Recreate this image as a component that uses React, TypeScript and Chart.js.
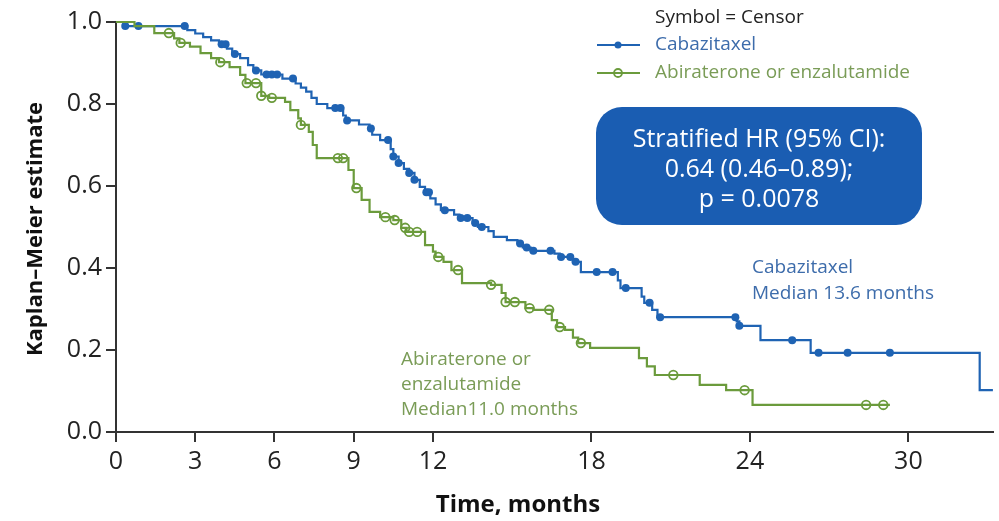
import React, { useEffect, useRef } from "react";
import { Chart, registerables } from "chart.js";

Chart.register(...registerables);

// ---------- DATA ----------
const xTickValues = [0, 3, 6, 9, 12, 18, 24, 30];
const yTickValues = [0, 0.2, 0.4, 0.6, 0.8, 1.0];

// Cabazitaxel KM step points (time in months, survival after the step)
const cabaTimes = [
  0, 0.3, 2.7, 3.0, 3.3, 3.6, 3.9, 4.2, 4.4, 4.7, 5.0, 5.2, 5.5, 6.3, 6.8, 7.0, 7.2, 7.4, 7.6, 8.0,
  8.6, 8.7, 9.2, 9.6, 9.7, 10.0, 10.4, 10.5, 10.7, 10.9, 11.1, 11.3, 11.5, 11.7, 11.9, 12.1, 12.3,
  12.8, 13.0, 13.5, 13.7, 14.1, 14.3, 14.8, 15.2, 15.4, 15.7, 16.6, 16.8, 17.3, 17.6, 19.0, 19.1,
  19.9, 20.0, 20.3, 20.5, 23.5, 23.6, 24.4, 26.3, 32.7, 33.2,
];
const cabaSurv = [
  1.0, 0.99, 0.98, 0.972, 0.963, 0.955, 0.946, 0.935, 0.922, 0.912, 0.895, 0.882, 0.872, 0.862, 0.85,
  0.84, 0.83, 0.815, 0.8, 0.79, 0.772, 0.76, 0.75, 0.74, 0.725, 0.712, 0.69, 0.672, 0.656, 0.642,
  0.632, 0.615, 0.598, 0.585, 0.57, 0.555, 0.541, 0.53, 0.522, 0.51, 0.5, 0.49, 0.476, 0.468, 0.46,
  0.45, 0.442, 0.435, 0.427, 0.415, 0.39, 0.37, 0.351, 0.33, 0.315, 0.298, 0.28, 0.27, 0.259, 0.224,
  0.193, 0.102, 0.102,
];
const cabaCensorTimes = [
  0.35, 0.85, 2.6, 4.0, 4.15, 4.5, 5.3, 5.7, 5.9, 6.1, 6.7, 8.3, 8.5, 8.75, 9.65, 10.3, 10.5, 10.7,
  11.1, 11.3, 11.75, 11.85, 12.45, 13.05, 13.3, 13.6, 13.85, 15.3, 15.55, 15.8, 16.45, 16.85, 17.2,
  17.4, 18.2, 18.8, 19.3, 20.2, 20.6, 23.45, 23.6, 25.6, 26.6, 27.7, 29.3,
];

// Abiraterone or enzalutamide KM step points
const abiTimes = [
  0, 0.7, 1.45, 2.2, 2.4, 2.8, 3.2, 3.6, 3.9, 4.3, 4.7, 4.9, 5.5, 5.8, 6.4, 6.6, 6.9, 7.0, 7.3, 7.45,
  7.6, 8.8, 9.0, 9.3, 9.6, 10.0, 10.5, 10.8, 11.0, 11.7, 12.0, 12.1, 12.4, 12.7, 13.1, 14.2, 14.6,
  14.75, 15.5, 15.8, 16.5, 16.7, 17.0, 17.3, 17.5, 17.95, 19.8, 20.1, 20.4, 22.1, 23.1, 24.1, 29.3,
];
const abiSurv = [
  1.0, 0.99, 0.973, 0.96, 0.949, 0.94, 0.924, 0.912, 0.902, 0.89, 0.871, 0.851, 0.82, 0.815, 0.805,
  0.785, 0.765, 0.749, 0.732, 0.7, 0.668, 0.639, 0.595, 0.566, 0.537, 0.524, 0.517, 0.498, 0.488,
  0.456, 0.44, 0.427, 0.415, 0.395, 0.363, 0.359, 0.339, 0.317, 0.302, 0.298, 0.273, 0.256, 0.249,
  0.23, 0.217, 0.205, 0.18, 0.16, 0.139, 0.115, 0.102, 0.066, 0.066,
];
const abiCensorTimes = [
  2.0, 2.45, 3.95, 4.95, 5.3, 5.5, 5.9, 7.0, 8.4, 8.6, 9.1, 10.2, 10.55, 10.95, 11.1, 11.4, 12.2,
  12.95, 14.2, 14.75, 15.1, 15.66, 16.4, 16.8, 17.6, 21.1, 23.8, 28.4, 29.05,
];

const seriesNames = ["Cabazitaxel", "Abiraterone or enzalutamide"];

// ---------- STYLE ----------
const BLUE = "#1f63b3";
const GREEN = "#6b9b3c";
const BOX = "#1a5db2";
const BLUE_TEXT = "#3d6cab";
const GREEN_TEXT = "#7a9c57";
const FONT = "'Open Sans', 'Noto Sans', sans-serif";

function stepAt(times: number[], surv: number[], t: number) {
  let v = surv[0];
  for (let i = 0; i < times.length; i++) {
    if (times[i] <= t) v = surv[i];
  }
  return v;
}

const toPts = (times: number[], surv: number[]) => times.map((t, i) => ({ x: t, y: surv[i] }));
const censorPts = (ct: number[], times: number[], surv: number[]) =>
  ct.map((t) => ({ x: t, y: stepAt(times, surv, t) }));

const overlayPlugin = {
  id: "overlay",
  afterDraw(chart: any) {
    const ctx = chart.ctx as CanvasRenderingContext2D;
    ctx.save();
    // axis titles
    ctx.fillStyle = "#111";
    ctx.textAlign = "center";
    ctx.textBaseline = "middle";
    ctx.font = `bold 24px ${FONT}`;
    ctx.fillText("Time, months", 518, 505);
    ctx.save();
    ctx.translate(36, 229);
    ctx.rotate(-Math.PI / 2);
    ctx.font = `bold 22px ${FONT}`;
    ctx.fillText("Kaplan\u2013Meier estimate", 0, 0);
    ctx.restore();

    // legend
    ctx.textAlign = "left";
    ctx.font = `19px ${FONT}`;
    ctx.fillStyle = "#222";
    ctx.fillText("Symbol = Censor", 655, 18);
    ctx.fillStyle = BLUE_TEXT;
    ctx.fillText(seriesNames[0], 655, 45);
    ctx.fillStyle = GREEN_TEXT;
    ctx.fillText(seriesNames[1], 655, 73);
    ctx.lineWidth = 2;
    ctx.strokeStyle = BLUE;
    ctx.beginPath();
    ctx.moveTo(597, 45);
    ctx.lineTo(640, 45);
    ctx.stroke();
    ctx.fillStyle = BLUE;
    ctx.beginPath();
    ctx.arc(618, 45, 3.5, 0, Math.PI * 2);
    ctx.fill();
    ctx.strokeStyle = GREEN;
    ctx.beginPath();
    ctx.moveTo(597, 73);
    ctx.lineTo(640, 73);
    ctx.stroke();
    ctx.lineWidth = 1.8;
    ctx.beginPath();
    ctx.arc(618, 73, 4, 0, Math.PI * 2);
    ctx.stroke();

    // HR box
    ctx.fillStyle = BOX;
    ctx.beginPath();
    (ctx as any).roundRect(596, 107, 326, 118, 26);
    ctx.fill();
    ctx.fillStyle = "#ffffff";
    ctx.textAlign = "center";
    ctx.font = `25px ${FONT}`;
    ctx.fillText("Stratified HR (95% CI):", 759, 140);
    ctx.fillText("0.64 (0.46\u20130.89);", 759, 170);
    ctx.fillText("p = 0.0078", 759, 200);

    // annotations
    ctx.textAlign = "left";
    ctx.font = `19px ${FONT}`;
    ctx.fillStyle = BLUE_TEXT;
    ctx.fillText("Cabazitaxel", 752, 268);
    ctx.fillText("Median 13.6 months", 752, 294);
    ctx.fillStyle = GREEN_TEXT;
    ctx.fillText("Abiraterone or", 401, 360);
    ctx.fillText("enzalutamide", 401, 385);
    ctx.fillText("Median11.0 months", 401, 410);
    ctx.restore();
  },
};

export default function App() {
  const ref = useRef<HTMLCanvasElement | null>(null);

  useEffect(() => {
    document.body.style.margin = "0";
    if (!ref.current) return;
    const tickFont = { family: FONT, size: 25 };
    const chart = new Chart(ref.current, {
      type: "line",
      data: {
        datasets: [
          {
            label: seriesNames[1],
            data: toPts(abiTimes, abiSurv),
            borderColor: GREEN,
            borderWidth: 2.2,
            pointRadius: 0,
            stepped: true,
            clip: false,
          } as any,
          {
            label: seriesNames[0],
            data: toPts(cabaTimes, cabaSurv),
            borderColor: BLUE,
            borderWidth: 2.2,
            pointRadius: 0,
            stepped: true,
            clip: false,
          } as any,
          {
            type: "scatter",
            label: seriesNames[1] + " censor",
            data: censorPts(abiCensorTimes, abiTimes, abiSurv),
            borderColor: GREEN,
            backgroundColor: "rgba(255,255,255,0)",
            borderWidth: 1.8,
            pointRadius: 4.3,
            showLine: false,
            clip: false,
          } as any,
          {
            type: "scatter",
            label: seriesNames[0] + " censor",
            data: censorPts(cabaCensorTimes, cabaTimes, cabaSurv),
            borderColor: BLUE,
            backgroundColor: BLUE,
            borderWidth: 0,
            pointRadius: 4,
            showLine: false,
            clip: false,
          } as any,
        ],
      },
      options: {
        animation: false,
        responsive: true,
        maintainAspectRatio: false,
        layout: { padding: { top: 22, right: 2, left: 0, bottom: 0 } },
        plugins: { legend: { display: false }, tooltip: { enabled: false } },
        scales: {
          x: {
            type: "linear",
            min: 0,
            max: 33.2,
            afterBuildTicks: (s: any) => {
              s.ticks = xTickValues.map((v) => ({ value: v }));
            },
            afterFit: (s: any) => {
              s.height = 89;
            },
            ticks: { font: tickFont, color: "#222", padding: 5, maxRotation: 0, autoSkip: false },
            grid: { drawOnChartArea: false, drawTicks: true, tickLength: 10, color: "#333", lineWidth: 2 },
            border: { color: "#333", width: 2 },
          },
          y: {
            min: 0,
            max: 1,
            afterBuildTicks: (s: any) => {
              s.ticks = yTickValues.map((v) => ({ value: v }));
            },
            afterFit: (s: any) => {
              s.width = 116;
            },
            ticks: {
              font: tickFont,
              color: "#222",
              padding: 4,
              callback: (v: any) => Number(v).toFixed(1),
            },
            grid: { drawOnChartArea: false, drawTicks: true, tickLength: 10, color: "#333", lineWidth: 2 },
            border: { color: "#333", width: 2 },
          },
        },
      } as any,
      plugins: [overlayPlugin],
    });
    return () => chart.destroy();
  }, []);

  return (
    <div style={{ width: 999, height: 521, position: "relative" }}>
      <canvas ref={ref} />
    </div>
  );
}
